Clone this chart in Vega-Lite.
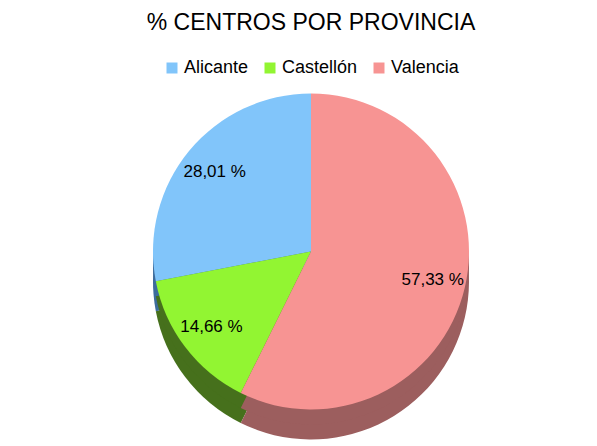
{
  "$schema": "https://vega.github.io/schema/vega-lite/v6.json",
  "autosize": {"type": "fit", "contains": "padding"},
  "width": 597,
  "height": 446,
  "padding": {"top": 12, "left": 30, "right": 5, "bottom": 0},
  "background": "white",
  "title": {
    "text": "% CENTROS POR PROVINCIA",
    "font": "Liberation Sans",
    "fontSize": 23,
    "fontWeight": "normal",
    "color": "#000000",
    "offset": 24
  },
  "data": {
    "values": [
      {"provincia": "Alicante", "pct": 28.01, "etiqueta": "28,01 %"},
      {"provincia": "Castellón", "pct": 14.66, "etiqueta": "14,66 %"},
      {"provincia": "Valencia", "pct": 57.33, "etiqueta": "57,33 %"}
    ]
  },
  "encoding": {
    "theta": {"field": "pct", "type": "quantitative", "stack": true},
    "order": {"field": "provincia", "type": "nominal", "sort": "descending"}
  },
  "layer": [
    {
      "mark": {"type": "arc", "outerRadius": 158, "yOffset": 16},
      "encoding": {
        "color": {
          "field": "provincia",
          "type": "nominal",
          "scale": {"domain": ["Alicante", "Castellón", "Valencia"], "range": ["#3d6c9c", "#46701c", "#9c5e5e"]},
          "legend": null
        }
      }
    },
    {
      "mark": {"type": "arc", "outerRadius": 158, "yOffset": 1},
      "encoding": {
        "color": {
          "field": "provincia",
          "type": "nominal",
          "scale": {"domain": ["Alicante", "Castellón", "Valencia"], "range": ["#3d6c9c", "#46701c", "#9c5e5e"]},
          "legend": null
        }
      }
    },
    {
      "mark": {"type": "arc", "outerRadius": 158, "yOffset": -14},
      "encoding": {
        "color": {
          "field": "provincia",
          "type": "nominal",
          "scale": {"domain": ["Alicante", "Castellón", "Valencia"], "range": ["#81c5fa", "#92f532", "#f79493"]},
          "legend": {
            "title": null,
            "orient": "top",
            "direction": "horizontal",
            "symbolType": "square",
            "symbolSize": 121,
            "symbolStrokeWidth": 0,
            "labelFont": "Liberation Sans",
            "labelFontSize": 18,
            "labelColor": "#000000",
            "labelOffset": 3,
            "columnPadding": 12,
            "symbolOffset": 0,
            "offset": 8
          }
        }
      }
    },
    {
      "mark": {"type": "text", "radius": 125, "yOffset": -14, "font": "Liberation Sans", "fontSize": 17, "color": "#000000"},
      "encoding": {
        "text": {"field": "etiqueta", "type": "nominal"}
      }
    }
  ],
  "resolve": {"scale": {"color": "independent"}},
  "config": {
    "view": {"stroke": null},
    "legend": {"layout": {"top": {"anchor": "middle"}}}
  }
}
